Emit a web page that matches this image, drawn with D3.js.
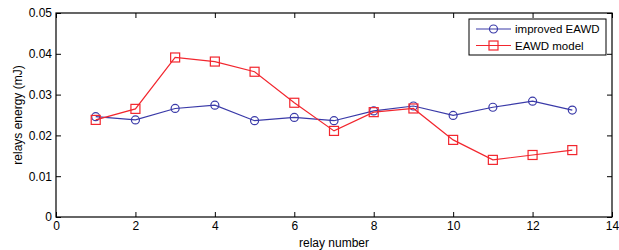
<!DOCTYPE html>
<meta charset="utf-8">
<style>
body{ margin:0; background:#fff; }
text{ font-family:"Liberation Sans", Arial, sans-serif; fill:#000; }
.tick text{ font-size:12px; }
.lbl{ font-size:12px; }
.legend text{ font-size:11.5px; }
</style>
<body>
<script src="https://d3js.org/d3.v7.min.js"></script>
<script>
// relay number vs relay energy (mJ)
var relays = [1,2,3,4,5,6,7,8,9,10,11,12,13];
var improvedEAWD = [0.0246,0.0238,0.0266,0.0274,0.0236,0.0244,0.0236,0.0260,0.0272,0.0249,0.0269,0.0284,0.0262];
var eawdModel    = [0.0238,0.0265,0.0391,0.0381,0.0356,0.0280,0.0211,0.0257,0.0266,0.0189,0.0140,0.0152,0.0164];
var xTicks = [0,2,4,6,8,10,12,14];
var yTicks = [0,0.01,0.02,0.03,0.04,0.05];

var W = 619, H = 250;
var m = {left:56, right:7, top:13, bottom:33};

var svg = d3.select("body").append("svg").attr("width", W).attr("height", H);

var x = d3.scaleLinear().domain([0,14]).range([m.left, W - m.right]);
var y = d3.scaleLinear().domain([0,0.05]).range([H - m.bottom, m.top]);

// frame
svg.append("rect")
  .attr("x", x(0)).attr("y", y(0.05))
  .attr("width", x(14) - x(0)).attr("height", y(0) - y(0.05))
  .attr("fill", "none").attr("stroke", "#000").attr("stroke-width", 1.2);

// axes, ticks pointing inward
var fmtY = function(d){ return d === 0 ? "0" : d3.format(".2f")(d); };
var ax = svg.append("g").attr("transform", "translate(0," + y(0) + ")")
  .call(d3.axisBottom(x).tickValues(xTicks).tickSizeInner(-5).tickSizeOuter(0).tickPadding(4));
var axT = svg.append("g").attr("transform", "translate(0," + y(0.05) + ")")
  .call(d3.axisTop(x).tickValues(xTicks).tickSizeInner(-5).tickSizeOuter(0).tickFormat(""));
var ay = svg.append("g").attr("transform", "translate(" + x(0) + ",0)")
  .call(d3.axisLeft(y).tickValues(yTicks).tickFormat(fmtY).tickSizeInner(-5).tickSizeOuter(0).tickPadding(4));
var ayR = svg.append("g").attr("transform", "translate(" + x(14) + ",0)")
  .call(d3.axisRight(y).tickValues(yTicks).tickSizeInner(-5).tickSizeOuter(0).tickFormat(""));
[ax, axT, ay, ayR].forEach(function(g){
  g.select(".domain").remove();
  g.selectAll(".tick line").attr("stroke", "#000");
  g.selectAll(".tick text").attr("fill", "#000");
});

// axis titles
svg.append("text").attr("class", "lbl")
  .attr("x", (x(0) + x(14)) / 2).attr("y", H - 3)
  .attr("text-anchor", "middle").text("relay number");
svg.append("text").attr("class", "lbl")
  .attr("transform", "translate(22," + ((y(0) + y(0.05)) / 2) + ") rotate(-90)")
  .attr("text-anchor", "middle").text("relays energy (mJ)");

var series = [
  {name:"improved EAWD", values:improvedEAWD, color:"#3a3aa8", shape:"circle"},
  {name:"EAWD model", values:eawdModel, color:"#f2262e", shape:"square"}
];

var line = d3.line().x(function(d, i){ return x(relays[i]); }).y(function(d){ return y(d); });

function marker(g, shape, color, cx, cy){
  if (shape === "circle") {
    g.append("circle").attr("cx", cx).attr("cy", cy).attr("r", 4)
      .attr("fill", "none").attr("stroke", color).attr("stroke-width", 1.2);
  } else {
    g.append("rect").attr("x", cx - 4.5).attr("y", cy - 4.5).attr("width", 9).attr("height", 9)
      .attr("fill", "none").attr("stroke", color).attr("stroke-width", 1.2);
  }
}

series.forEach(function(s){
  var g = svg.append("g");
  g.append("path").datum(s.values).attr("d", line)
    .attr("fill", "none").attr("stroke", s.color).attr("stroke-width", 1.2);
  s.values.forEach(function(v, i){ marker(g, s.shape, s.color, x(relays[i]), y(v)); });
});

// legend
var lg = svg.append("g").attr("class", "legend");
lg.append("rect").attr("x", 469).attr("y", 19).attr("width", 137).attr("height", 36)
  .attr("fill", "#fff").attr("stroke", "#000").attr("stroke-width", 1);
series.forEach(function(s, i){
  var ly = 29 + i * 16.5;
  lg.append("line").attr("x1", 476).attr("x2", 511).attr("y1", ly).attr("y2", ly)
    .attr("stroke", s.color).attr("stroke-width", 1.2);
  marker(lg, s.shape, s.color, 493.5, ly);
  lg.append("text").attr("x", 515).attr("y", ly + 4).text(s.name);
});
</script>
</body>
